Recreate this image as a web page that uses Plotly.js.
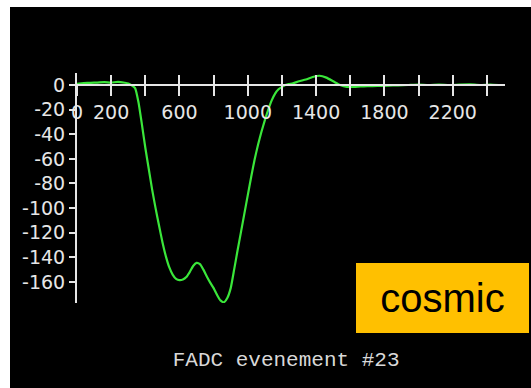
<!DOCTYPE html>
<html>
<head>
<meta charset="utf-8">
<script src="https://cdn.plot.ly/plotly-3.0.1.min.js"></script>
<style>
  html, body { margin: 0; padding: 0; background: #ffffff; }
  #chart { position: absolute; left: 10px; top: 7px; width: 521px; height: 381px; }
</style>
</head>
<body>
<div id="chart"></div>
<script>
// FADC sample time (ns) and amplitude
const sampleTime = [0, 40, 80, 120, 160, 200, 240, 280, 300, 320, 340, 360, 380, 400, 420, 440, 460, 480, 500, 520, 540, 560, 580, 600, 620, 640, 660, 680, 700, 720, 740, 760, 780, 800, 820, 840, 860, 880, 900, 920, 940, 960, 980, 1000, 1020, 1040, 1060, 1080, 1100, 1120, 1140, 1160, 1180, 1200, 1220, 1240, 1260, 1300, 1340, 1380, 1420, 1460, 1500, 1540, 1580, 1620, 1660, 1700, 1760, 1820, 1880, 1940, 2000, 2060, 2120, 2180, 2240, 2300, 2360, 2420, 2470];
const amplitude = [1, 1.5, 1.8, 2, 2.3, 2, 2.5, 1.8, 1.2, -0.3, -2.5, -14, -32, -51, -68, -85, -100, -114, -127.5, -139, -148, -154, -157.5, -158.5, -158, -156, -152, -147, -144.5, -145.5, -150, -155.5, -160.5, -165, -170.5, -175, -176.5, -173, -165, -150, -134.5, -119.5, -104.5, -89.5, -74.5, -60.5, -48.5, -38, -28.5, -20, -12.5, -7, -3.5, -1.5, 0, 0.8, 1.2, 3, 4.5, 6.5, 7.5, 6, 3, 0, -1.5, -1.5, -1.2, -1, -0.8, -0.5, -0.3, 0, 0.3, 0, 0.4, 0, 0.3, 0.5, 0, 0.4, 0];

const xTickVals = [0, 200, 400, 600, 800, 1000, 1200, 1400, 1600, 1800, 2000, 2200, 2400];
const xTickText = ['0', '200', '', '600', '', '1000', '', '1400', '', '1800', '', '2200', ''];
const yTickVals = [0, -20, -40, -60, -80, -100, -120, -140, -160];
const yTickText = ['0', '-20', '-40', '-60', '-80', '-100', '-120', '-140', '-160'];

const titleText = 'FADC evenement #23';
const labelText = 'cosmic';

const axisColor = '#e6e6e6';
const xPos = 177.1 / (177.1 + 9.75);

const traces = [
  {
    x: sampleTime, y: amplitude, type: 'scatter', mode: 'lines',
    line: { color: '#3ae63a', width: 2.2, shape: 'spline', smoothing: 0.5 },
    hoverinfo: 'skip', showlegend: false, xaxis: 'x', yaxis: 'y'
  },
  {
    x: [sampleTime[0]], y: [amplitude[0]], type: 'scatter', mode: 'markers',
    marker: { opacity: 0 }, hoverinfo: 'skip', showlegend: false, xaxis: 'x2', yaxis: 'y'
  }
];

const layout = {
  width: 521, height: 381,
  paper_bgcolor: '#000000', plot_bgcolor: '#000000',
  margin: { l: 67, r: 26, t: 66, b: 85, pad: 0 },
  showlegend: false,
  xaxis: {
    range: [0, 2506], tickmode: 'array', tickvals: xTickVals, ticktext: xTickText,
    ticks: 'outside', ticklen: 10, tickwidth: 2, tickcolor: axisColor,
    showline: true, linecolor: axisColor, linewidth: 2,
    showgrid: false, zeroline: false, anchor: 'free', position: xPos,
    tickfont: { family: 'DejaVu Sans', size: 19, color: axisColor }
  },
  xaxis2: {
    range: [0, 2506], overlaying: 'x', tickmode: 'array', tickvals: xTickVals,
    ticks: 'inside', ticklen: 10, tickwidth: 2, tickcolor: axisColor,
    showticklabels: false, showline: false, showgrid: false, zeroline: false,
    anchor: 'free', position: xPos
  },
  yaxis: {
    range: [-177.1, 9.75], tickmode: 'array', tickvals: yTickVals, ticktext: yTickText,
    ticks: 'outside', ticklen: 6, tickwidth: 2, tickcolor: axisColor,
    showline: true, linecolor: axisColor, linewidth: 2,
    showgrid: false, zeroline: false,
    tickfont: { family: 'DejaVu Sans', size: 19, color: axisColor }
  },
  title: {
    text: titleText,
    font: { family: 'Liberation Mono', size: 21, color: '#d8d8d8' },
    xref: 'container', yref: 'container', x: 0.53, y: 0.076,
    xanchor: 'center', yanchor: 'middle'
  },
  annotations: [
    {
      text: labelText, xref: 'paper', yref: 'paper', x: 0.854, y: 0.0217,
      xanchor: 'center', yanchor: 'middle', showarrow: false,
      width: 173, height: 70, bgcolor: '#FFC000', borderpad: 0, borderwidth: 0,
      font: { family: 'Liberation Sans', size: 40, color: '#000000' }
    }
  ]
};

Plotly.newPlot('chart', traces, layout, { staticPlot: true, displayModeBar: false });
</script>
</body>
</html>
